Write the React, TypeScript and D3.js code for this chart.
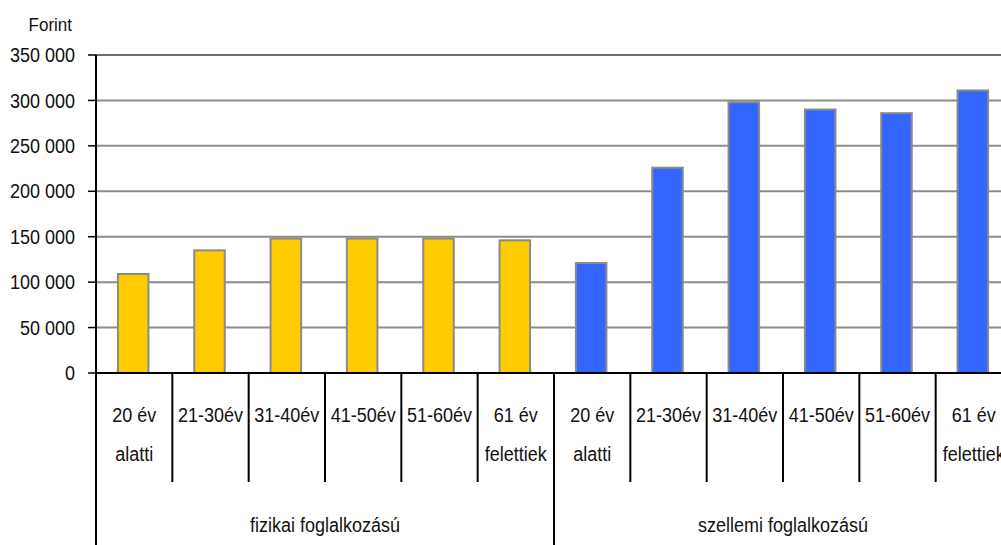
import React from "react";
import * as d3 from "d3";

const groups = ["fizikai foglalkozású", "szellemi foglalkozású"];
const ageLabels = [["20 év", "alatti"], ["21-30év"], ["31-40év"], ["41-50év"], ["51-60év"], ["61 év", "felettiek"]];
const fizikaiValues = [109000, 135000, 148000, 148000, 148000, 146000];
const szellemiValues = [121000, 226000, 298000, 290000, 286000, 311000];
const yTicks = [0, 50000, 100000, 150000, 200000, 250000, 300000, 350000];
const groupColors = ["#FFCC00", "#3366FF"];
const yTitle = "Forint";

const W = 1001;
const H = 545;
const x0 = 96;
const x1 = 1012;
const yTop = 55;
const yBottom = 373;

function T({ x, y, anchor, size, children }: { x: number; y: number; anchor: string; size: number; children: React.ReactNode }) {
  return (
    <text transform={`translate(${x},${y}) scale(1,1.1)`} dy="0.36em" textAnchor={anchor} fontSize={size} fill="#111">
      {children}
    </text>
  );
}

export default function App() {
  const items = groups.flatMap((g, gi) =>
    ageLabels.map((a, ai) => ({
      key: `${gi}-${ai}`,
      group: gi,
      label: a,
      value: gi === 0 ? fizikaiValues[ai] : szellemiValues[ai],
    }))
  );
  const x = d3.scaleBand<string>().domain(items.map((d) => d.key)).range([x0, x1]).padding(0);
  const y = d3.scaleLinear().domain([0, 350000]).range([yBottom, yTop]);
  const step = x.step();
  const barW = step * 0.4;
  const fmt = (v: number) => d3.format(",")(v).replace(/,/g, " ");
  const font = "'Liberation Sans', Arial, sans-serif";

  return (
    <svg width={W} height={H} style={{ position: "absolute", left: 0, top: 0, background: "#fff" }} fontFamily={font}>
      {yTicks.filter((t) => t > 0).map((t) => (
        <line key={t} x1={x0} x2={W} y1={y(t)} y2={y(t)} stroke={t === 350000 ? "#6e6e6e" : "#8c8c8c"} strokeWidth={2} />
      ))}
      {yTicks.map((t) => (
        <g key={"t" + t}>
          <line x1={88} x2={x0} y1={y(t)} y2={y(t)} stroke="#000" strokeWidth={1.5} />
          <T x={75} y={y(t)} anchor="end" size={18}>{fmt(t)}</T>
        </g>
      ))}
      <T x={72} y={24} anchor="end" size={17}>{yTitle}</T>
      {items.map((d) => {
        const cx = (x(d.key) as number) + step / 2 - 1;
        return (
          <rect
            key={d.key}
            x={cx - barW / 2}
            y={y(d.value)}
            width={barW}
            height={yBottom - y(d.value)}
            fill={groupColors[d.group]}
            stroke="#8a8a8a"
            strokeWidth={2}
          />
        );
      })}
      <line x1={x0} x2={W} y1={yBottom} y2={yBottom} stroke="#000" strokeWidth={2} />
      <line x1={x0} x2={x0} y1={yTop} y2={H} stroke="#000" strokeWidth={2} />
      {items.map((d, i) => {
        if (i === 0) return null;
        const xx = x(d.key) as number;
        const isGroup = i % ageLabels.length === 0;
        return <line key={"s" + d.key} x1={xx} x2={xx} y1={yBottom} y2={isGroup ? H : 482} stroke="#000" strokeWidth={2} />;
      })}
      {items.map((d) => {
        const cx = (x(d.key) as number) + step / 2;
        return (
          <g key={"l" + d.key}>
            {d.label.map((l, li) => (
              <T key={li} x={cx} y={415 + li * 39} anchor="middle" size={18}>{l}</T>
            ))}
          </g>
        );
      })}
      {groups.map((g, gi) => {
        const start = x(items[gi * ageLabels.length].key) as number;
        const cx = start + (step * ageLabels.length) / 2;
        return (
          <T key={g} x={cx} y={525} anchor="middle" size={18}>{g}</T>
        );
      })}
    </svg>
  );
}
